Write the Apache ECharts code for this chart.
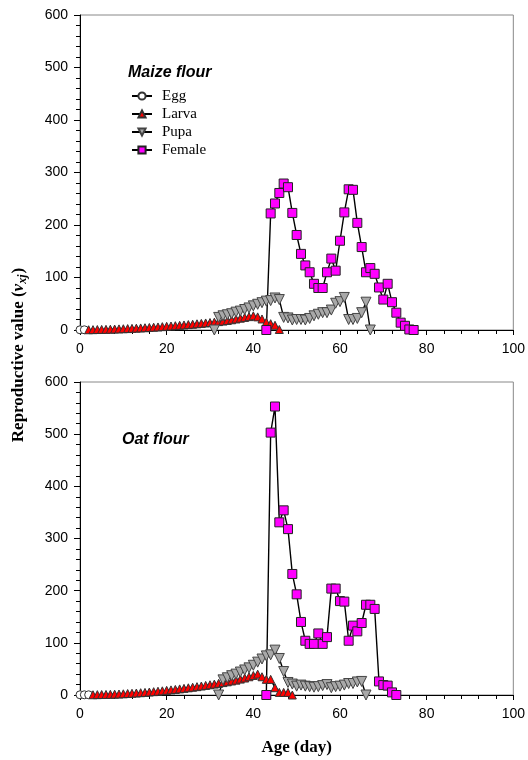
<!DOCTYPE html>
<html><head><meta charset="utf-8">
<script src="https://cdn.jsdelivr.net/npm/echarts@6/dist/echarts.min.js"></script>
<style>html,body{margin:0;padding:0;background:#fff}#c{width:528px;height:760px}</style>
</head><body><div id="c"></div>
<script>
// ---- data (age in days) ----
const xTicks = [0, 20, 40, 60, 80, 100];
const yTicks = [0, 100, 200, 300, 400, 500, 600];
const seriesNames = ['Egg', 'Larva', 'Pupa', 'Female'];

// Maize flour
const maizeEggStart = 0;
const maizeEgg = [0.4, 0.4];
const maizeLarvaStart = 2;
const maizeLarva = [0.5, 0.7, 0.9, 1.1, 1.3, 1.5, 1.8, 2.1, 2.4, 2.7, 3.1, 3.5, 3.9, 4.3, 4.8, 5.3, 5.8, 6.4, 7, 7.6, 8.2, 8.9, 9.6, 10.3, 11, 11.8, 12.6, 13.4, 14.2, 15, 16, 17, 18.2, 19.5, 21, 22.5, 24, 25.5, 27, 25, 21, 15, 12, 9, 1];
const maizePupaStart = 31;
const maizePupa = [0, 24, 27, 29, 31, 34, 36, 39, 42, 46, 49, 52, 55, 56, 61, 58, 24, 23, 19, 20, 20, 19, 22, 27, 30, 33, 33, 38, 51, 54, 62, 20, 20, 22, 33, 53, 0];
const maizeFemaleStart = 43;
const maizeFemale = [0, 222, 241, 261, 279, 272, 223, 181, 145, 123, 110, 88, 80, 80, 110, 136, 113, 170, 224, 268, 267, 204, 158, 110, 118, 107, 81, 58, 88, 53, 33, 14, 8, 1, 0];

// Oat flour
const oatEggStart = 0;
const oatEgg = [0.4, 0.4, 0.4];
const oatLarvaStart = 3;
const oatLarva = [0.5, 0.7, 0.9, 1.1, 1.3, 1.6, 1.9, 2.3, 2.8, 3.3, 3.8, 4.4, 5, 5.7, 6.4, 7.2, 8, 8.9, 9.8, 10.7, 11.7, 12.7, 13.8, 14.9, 16, 17.2, 18.4, 19.6, 20.9, 22.3, 23.8, 25.3, 26.9, 28.5, 30.5, 32.5, 35, 37.5, 40, 35, 30, 30, 14, 5, 5, 5, 0];
const oatPupaStart = 32;
const oatPupa = [0, 29, 33, 37, 40, 44, 48, 52, 57, 63, 69, 75, 77, 86, 70, 45, 24, 21, 17, 19, 17, 16, 15, 16, 18, 20, 14, 16, 17, 19, 22, 22, 25, 26, 0];
const oatFemaleStart = 43;
const oatFemale = [0, 503, 553, 331, 354, 318, 232, 193, 140, 104, 98, 98, 118, 98, 111, 204, 204, 180, 179, 104, 133, 122, 138, 173, 173, 165, 26, 19, 18, 5, 0];

const panelTitles = ['Maize flour', 'Oat flour'];

// ---- build ----
function pairs(start, vals) { return vals.map((v, i) => [start + i, v]); }

const styles = {
  Egg:    { symbol: 'circle',   size: 8,  rotate: 0,   fill: '#ffffff', border: '#333' },
  Larva:  { symbol: 'triangle', size: 8,  rotate: 0,   fill: '#ff0000', border: '#333' },
  Pupa:   { symbol: 'triangle', size: 10, rotate: 180, fill: '#a8a8a8', border: '#444' },
  Female: { symbol: 'rect',     size: 9,  rotate: 0,   fill: '#ff00ff', border: '#222' }
};

const panels = [
  { Egg: pairs(maizeEggStart, maizeEgg), Larva: pairs(maizeLarvaStart, maizeLarva), Pupa: pairs(maizePupaStart, maizePupa), Female: pairs(maizeFemaleStart, maizeFemale) },
  { Egg: pairs(oatEggStart, oatEgg), Larva: pairs(oatLarvaStart, oatLarva), Pupa: pairs(oatPupaStart, oatPupa), Female: pairs(oatFemaleStart, oatFemale) }
];

const series = [];
panels.forEach((p, gi) => {
  seriesNames.forEach(n => {
    const s = styles[n];
    series.push({
      name: n, type: 'line', xAxisIndex: gi, yAxisIndex: gi,
      data: p[n], symbol: s.symbol, symbolSize: s.size, symbolRotate: s.rotate,
      showAllSymbol: true,
      lineStyle: { color: '#000', width: 1.4 },
      itemStyle: { color: s.fill, borderColor: s.border, borderWidth: 1 },
      emphasis: { disabled: true }
    });
  });
});

const gridDefs = [
  { left: 80, top: 15, width: 435, height: 315 },
  { left: 80, top: 382, width: 435, height: 313 }
];

const labelFont = { fontFamily: 'Liberation Sans, Arial', fontSize: 14, color: '#000' };

const xAxes = gridDefs.map((g, i) => ({
  type: 'value', gridIndex: i, min: xTicks[0], max: xTicks[xTicks.length - 1],
  interval: xTicks[1] - xTicks[0],
  axisLine: { lineStyle: { color: '#000', width: 1 } },
  axisTick: { show: true, inside: false, length: 5, lineStyle: { color: '#000' } },
  minorTick: { show: true, splitNumber: 5, length: 4, lineStyle: { color: '#000' } },
  splitLine: { show: false },
  axisLabel: Object.assign({ margin: 12 }, labelFont),
  name: i === 1 ? 'Age (day)' : '',
  nameLocation: 'middle', nameGap: 44,
  nameTextStyle: { fontFamily: 'Liberation Serif, Times New Roman', fontWeight: 'bold', fontSize: 17, color: '#000' }
}));

const yAxes = gridDefs.map((g, i) => ({
  type: 'value', gridIndex: i, min: yTicks[0], max: yTicks[yTicks.length - 1],
  interval: yTicks[1] - yTicks[0],
  axisLine: { show: true, lineStyle: { color: '#000', width: 1 } },
  axisTick: { show: true, inside: false, length: 6, lineStyle: { color: '#000' } },
  minorTick: { show: true, splitNumber: 5, length: 4, lineStyle: { color: '#000' } },
  splitLine: { show: false },
  axisLabel: Object.assign({ margin: 12 }, labelFont)
}));

const option = {
  animation: false,
  backgroundColor: '#fff',
  grid: gridDefs.map(g => Object.assign({ show: true, borderColor: '#888', borderWidth: 1, backgroundColor: 'transparent' }, g)),
  xAxis: xAxes,
  yAxis: yAxes,
  legend: {
    data: seriesNames, orient: 'vertical', left: 131, top: 87, padding: 0,
    itemWidth: 20, itemHeight: 9, itemGap: 0,
    selectedMode: false,
    textStyle: { fontFamily: 'Liberation Serif, Times New Roman', fontSize: 15, color: '#000', lineHeight: 18, padding: [0, 0, 0, 5] }
  },
  graphic: [
    { type: 'text', left: 128, top: 65, style: { text: panelTitles[0], font: 'italic bold 16px "Liberation Sans", Arial', fill: '#000' } },
    { type: 'text', left: 122, top: 432, style: { text: panelTitles[1], font: 'italic bold 16px "Liberation Sans", Arial', fill: '#000' } },
    { type: 'text', x: 19, y: 355, rotation: Math.PI / 2,
      style: {
        text: '{a|Reproductive value (}{b|v}{c|xj}{a|)}',
        align: 'center', verticalAlign: 'middle',
        rich: {
          a: { fontFamily: 'Liberation Serif', fontWeight: 'bold', fontSize: 17, color: '#000' },
          b: { fontFamily: 'Liberation Serif', fontWeight: 'bold', fontStyle: 'italic', fontSize: 17, color: '#000' },
          c: { fontFamily: 'Liberation Serif', fontWeight: 'bold', fontStyle: 'italic', fontSize: 12, color: '#000', padding: [8, 1, 0, 0] }
        }
      }
    }
  ],
  series: series
};

const chart = echarts.init(document.getElementById('c'), null, { renderer: 'canvas' });
chart.setOption(option);
</script>
</body></html>
